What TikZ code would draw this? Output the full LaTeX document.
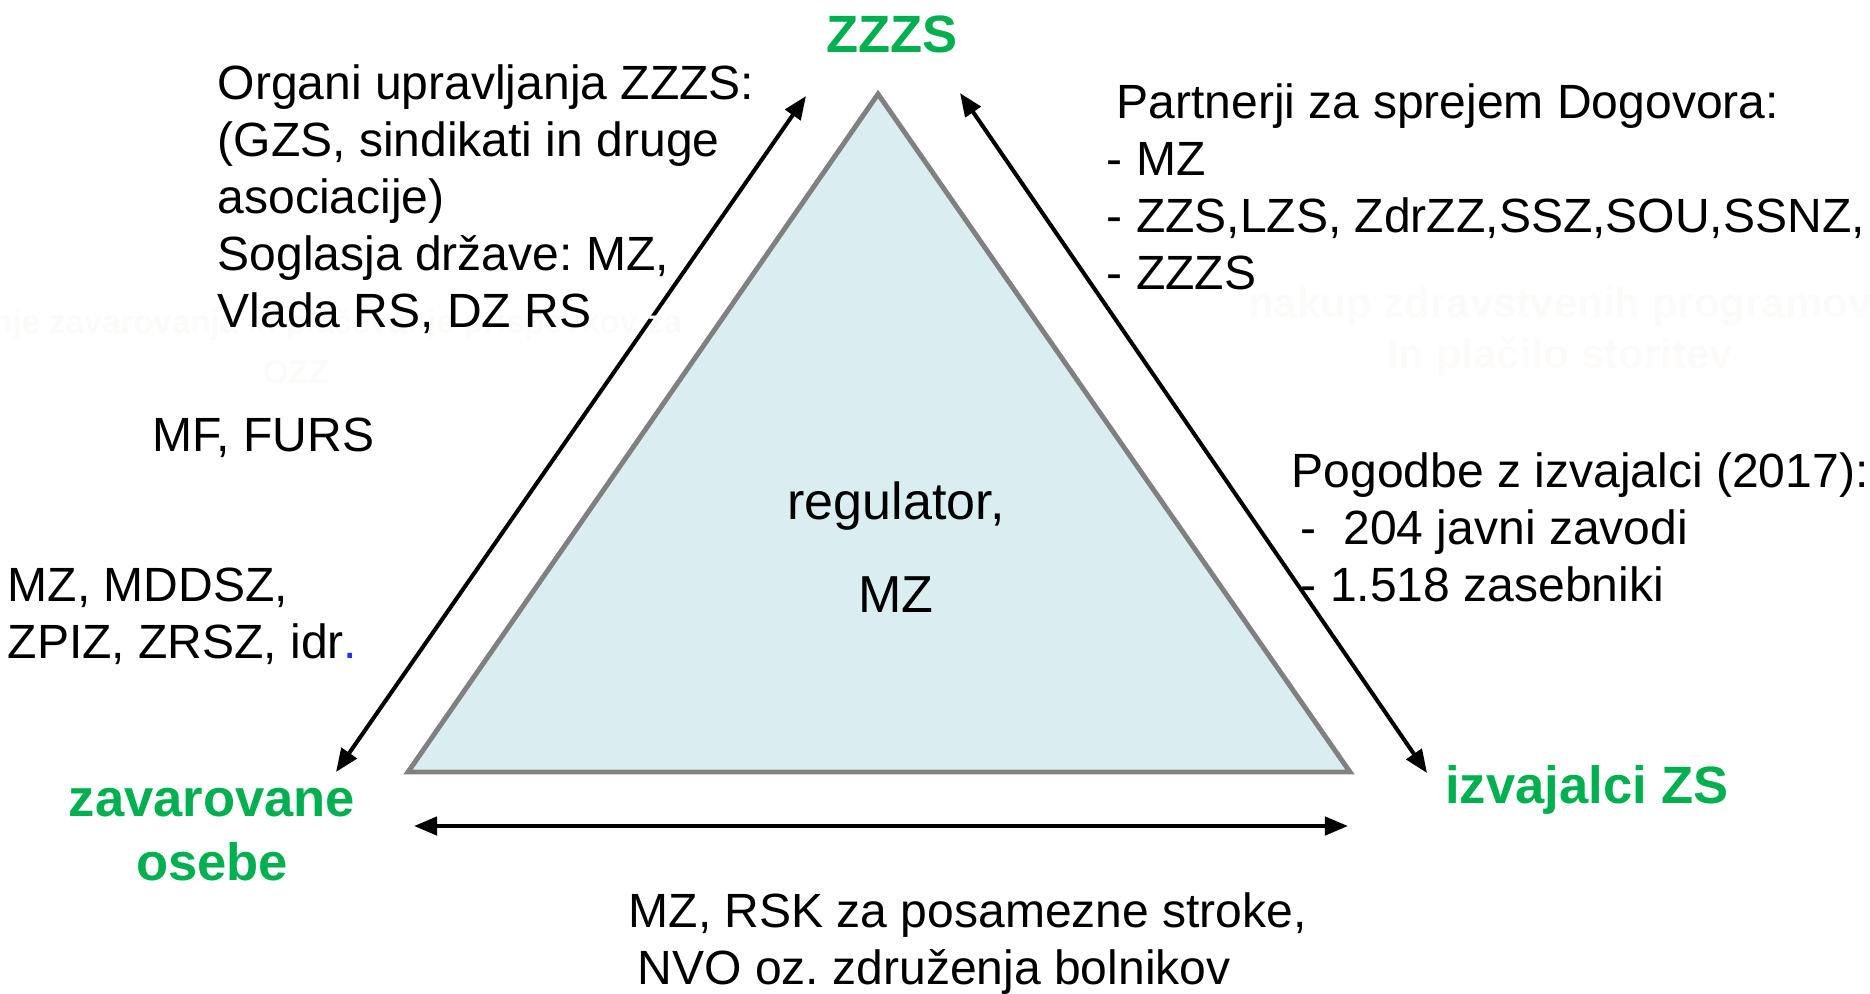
\documentclass[tikz,border=0pt]{standalone}
\usepackage{fontspec}
\setmainfont{Liberation Sans}
\usepackage{xcolor}
\usetikzlibrary{arrows.meta}
\definecolor{zzgreen}{RGB}{0,176,80}
\definecolor{trifill}{RGB}{218,238,241}
\definecolor{trigray}{RGB}{128,128,128}
\definecolor{ghostgray}{RGB}{252,251,249}
\definecolor{dotblue}{RGB}{40,40,255}
\frenchspacing

\begin{document}
\begin{tikzpicture}[x=0.01cm, y=-0.01cm,
    txt/.style={inner sep=0pt, align=left, font=\fontsize{13.66}{16.22}\selectfont},
    centertxt/.style={inner sep=0pt, align=center, font=\fontsize{14.8}{26.46}\selectfont},
    party/.style={inner sep=0pt, align=center, text=zzgreen, font=\fontsize{14.94}{18.2}\selectfont\bfseries},
    ghost/.style={inner sep=0pt, align=center, text=ghostgray},
    link/.style={line width=1.15pt, {Triangle[length=6.6pt,width=5.2pt]}-{Triangle[length=6.6pt,width=5.2pt]}}]
	\useasboundingbox (0,0) rectangle (1870,993);

	% the corners of the triangle
	\coordinate (apex) at (878,94);
	\coordinate (bl) at (408,772);
	\coordinate (br) at (1350,772);
	\draw[trigray, line width=1.4pt, fill=trifill] (apex) -- (bl) -- (br) -- cycle;

	% the three parties
	\node[party, anchor=base] (zzzs) at (892,52) {ZZZS};
	\node[party, anchor=north] (zav) at (212,787) {zavarovane\\osebe};
	\node[party, anchor=base] (izv) at (1587,803) {izvajalci ZS};

	% contracts with providers (under the arrow)
	\node[txt, anchor=north west] (pogodbe) at (1291,452)
		{Pogodbe z izvajalci (2017):\\
		 \hspace*{0.19em}-\ \ 204 javni zavodi\\
		 \hspace*{0.19em}- 1.518 zasebniki};

	% the arrow ends
	\coordinate (l1) at (806,96);
	\coordinate (l2) at (336,772);
	\coordinate (r1) at (960,93);
	\coordinate (r2) at (1427,773);
	\coordinate (b1) at (414,826);
	\coordinate (b2) at (1348,826);

	% draw the double arrows
	\draw[link] (l1) -- (l2);
	\draw[link] (r1) -- (r2);
	\draw[link] (b1) -- (b2);

	% faint texts
	\node[ghost, anchor=north, font=\fontsize{9.39}{14.23}\selectfont\bfseries] (ozz) at (296,308)
		{Urejanje zavarovanja in pla\v{c}evanje prispevkov za\\OZZ};
	\node[ghost, anchor=north, font=\fontsize{11.95}{14.5}\selectfont\bfseries] (nakup) at (1560,286)
		{nakup zdravstvenih programov\\In pla\v{c}ilo storitev};

	% the labels
	\node[txt, anchor=north west] (organi) at (217,64)
		{Organi upravljanja ZZZS:\\
		 (GZS, sindikati in druge\\
		 asociacije)\\
		 Soglasja dr\v{z}ave: MZ,\\
		 Vlada RS, DZ RS};
	\node[txt, anchor=north west] (partnerji) at (1106,83)
		{\hspace*{0.21em}Partnerji za sprejem Dogovora:\\
		 - MZ\\
		 - ZZS,LZS, ZdrZZ,SSZ,SOU,SSNZ,\\
		 - ZZZS};
	\node[txt, anchor=base west] (mf) at (152,451) {MF, FURS};
	\node[txt, anchor=north west] (mddsz) at (7,567)
		{MZ, MDDSZ,\\
		 ZPIZ, ZRSZ, idr\textcolor{dotblue}{.}};
	\node[txt, anchor=north west] (rsk) at (628,892)
		{MZ, RSK za posamezne stroke,\\
		 \hspace*{0.19em}NVO oz. zdru\v{z}enja bolnikov};
	\node[centertxt, anchor=north] (reg) at (896,481) {regulator,\\MZ};
\end{tikzpicture}
\end{document}
